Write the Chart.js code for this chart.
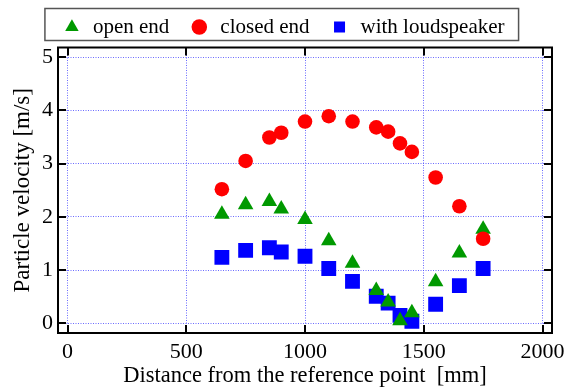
<!DOCTYPE html>
<html>
<head>
<meta charset="utf-8">
<script src="https://cdn.jsdelivr.net/npm/chart.js@4"></script>
<style>
  html, body { margin: 0; padding: 0; background: #fff; }
  #wrap { width: 566px; height: 392px; }
</style>
</head>
<body>
<div id="wrap"><canvas id="chart"></canvas></div>
<script>
// Particle velocity vs distance, three set-ups
const distances = [650, 750, 850, 900, 1000, 1100, 1200, 1300, 1350, 1400, 1450, 1550, 1650, 1750];
const openEnd = [2.05, 2.23, 2.29, 2.15, 1.95, 1.55, 1.13, 0.62, 0.40, 0.05, 0.20, 0.78, 1.32, 1.77];
const closedEnd = [2.52, 3.05, 3.49, 3.58, 3.79, 3.89, 3.79, 3.68, 3.60, 3.38, 3.22, 2.74, 2.20, 1.59];
const withSpeaker = [1.24, 1.37, 1.42, 1.34, 1.26, 1.03, 0.79, 0.51, 0.38, 0.15, 0.04, 0.36, 0.71, 1.03];
const xTicks = [0, 500, 1000, 1500, 2000];
const yTicks = [0, 1, 2, 3, 4, 5];

const serif = 'Liberation Serif';
const legendShift = 7;

function toPoints(values) {
    return distances.map((d, i) => ({ x: d, y: values[i] }));
}

// frame, inward ticks and legend border
const framePlugin = {
    id: 'frame',
    afterLayout(chart) {
        // nudge the legend row a little to the right, like the original
        chart.legend.left += legendShift;
        chart.legend.right += legendShift;
    },
    afterDatasetsDraw(chart) {
        const { ctx, chartArea: a, scales } = chart;
        ctx.save();
        ctx.strokeStyle = '#000';
        ctx.lineWidth = 2;
        ctx.strokeRect(a.left, a.top, a.right - a.left, a.bottom - a.top);
        ctx.beginPath();
        xTicks.forEach(v => {
            const px = Math.round(scales.x.getPixelForValue(v));
            ctx.moveTo(px, a.bottom); ctx.lineTo(px, a.bottom - 8);
            ctx.moveTo(px, a.top); ctx.lineTo(px, a.top + 8);
        });
        yTicks.forEach(v => {
            const py = Math.round(scales.y.getPixelForValue(v));
            ctx.moveTo(a.left, py); ctx.lineTo(a.left + 8, py);
            ctx.moveTo(a.right, py); ctx.lineTo(a.right - 8, py);
        });
        ctx.stroke();

        const boxes = chart.legend.legendHitBoxes;
        if (boxes && boxes.length) {
            const l = Math.min(...boxes.map(b => b.left)) - 16.5;
            const r = Math.max(...boxes.map(b => b.left + b.width)) + 14;
            const cy = boxes[0].top + boxes[0].height / 2;
            ctx.strokeStyle = '#555';
            ctx.lineWidth = 1.5;
            ctx.strokeRect(l, cy - 18.5, r - l, 32);
        }
        ctx.restore();
    }
};

const gridStyle = {
    color: 'rgba(70, 70, 255, 0.8)',
    lineWidth: 1,
    drawTicks: false
};

new Chart(document.getElementById('chart'), {
    type: 'scatter',
    data: {
        datasets: [
            {
                label: 'open end',
                data: toPoints(openEnd),
                pointStyle: 'triangle',
                pointRadius: 9,
                backgroundColor: '#009900',
                borderColor: '#009900',
                borderWidth: 0,
                order: 1
            },
            {
                label: 'closed end',
                data: toPoints(closedEnd),
                pointStyle: 'circle',
                pointRadius: 7.3,
                backgroundColor: '#ff0000',
                borderColor: '#ff0000',
                borderWidth: 0,
                order: 0
            },
            {
                label: 'with loudspeaker',
                data: toPoints(withSpeaker),
                pointStyle: 'rect',
                pointRadius: 10.5,
                backgroundColor: '#0000ff',
                borderColor: '#0000ff',
                borderWidth: 0,
                order: 2
            }
        ]
    },
    options: {
        responsive: true,
        maintainAspectRatio: false,
        animation: false,
        events: [],
        layout: { padding: { left: 0, right: 14, top: -3, bottom: 0 } },
        plugins: {
            tooltip: { enabled: false },
            legend: {
                position: 'top',
                labels: {
                    usePointStyle: true,
                    boxHeight: 11,
                    padding: 19.5,
                    color: '#000',
                    font: { family: serif, size: 21 },
                    sort: (a, b) => a.datasetIndex - b.datasetIndex
                }
            }
        },
        scales: {
            x: {
                type: 'linear',
                min: -40,
                max: 2040,
                afterBuildTicks: s => { s.ticks = xTicks.map(v => ({ value: v })); },
                afterFit: s => { s.height = 59; s.paddingLeft = 0; s.paddingRight = 0; },
                grid: { ...gridStyle },
                border: { display: false, dash: [1, 1.5] },
                ticks: {
                    color: '#000', padding: 6, maxRotation: 0,
                    font: { family: serif, size: 22 },
                    callback: v => String(v)
                },
                title: {
                    display: true,
                    text: 'Distance from the reference point  [mm]',
                    color: '#000',
                    font: { family: serif, size: 22.5 },
                    padding: { top: 0, bottom: 2 }
                }
            },
            y: {
                type: 'linear',
                min: -0.18,
                max: 5.18,
                afterBuildTicks: s => { s.ticks = yTicks.map(v => ({ value: v })); },
                afterFit: s => { s.width = 58; s.paddingTop = 0; s.paddingBottom = 0; },
                grid: { ...gridStyle },
                border: { display: false, dash: [1, 1.5] },
                ticks: {
                    color: '#000', padding: 5,
                    font: { family: serif, size: 22 },
                    callback: v => String(v)
                },
                title: {
                    display: true,
                    text: 'Particle velocity [m/s]',
                    color: '#000',
                    font: { family: serif, size: 23 },
                    padding: { top: 9, bottom: 0 }
                }
            }
        }
    },
    plugins: [framePlugin]
});
</script>
</body>
</html>
